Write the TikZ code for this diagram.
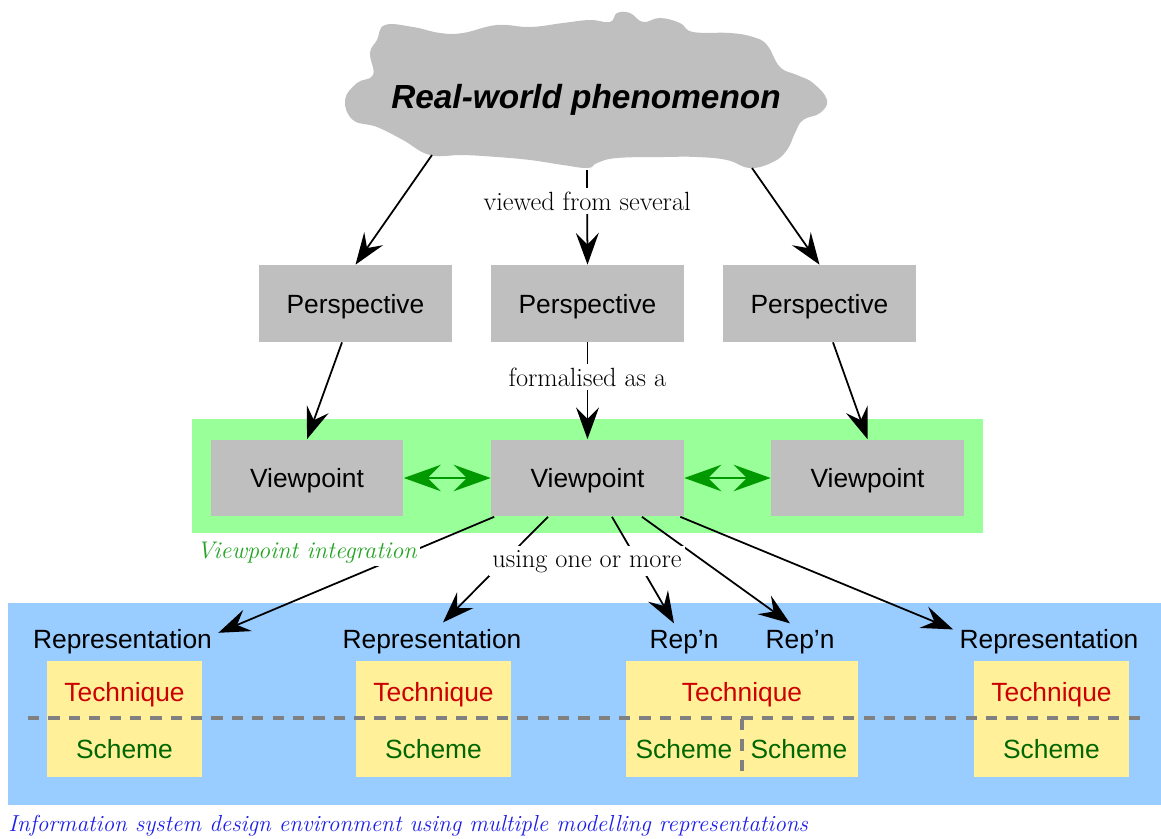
\documentclass[tikz,border=0pt]{standalone}
\usepackage{fontspec}
\setsansfont{Liberation Sans}
\usepackage{xcolor}
\usepackage{tikz}
\usetikzlibrary{arrows.meta,positioning,calc}

\definecolor{boxgray}{RGB}{191,191,191}
\definecolor{integgreen}{RGB}{153,255,153}
\definecolor{envblue}{RGB}{153,204,255}
\definecolor{techyellow}{RGB}{255,240,153}
\definecolor{techred}{RGB}{204,0,0}
\definecolor{schemegreen}{RGB}{0,102,0}
\definecolor{linkgreen}{RGB}{0,153,0}
\definecolor{labelgreen}{RGB}{34,165,34}
\definecolor{capblue}{RGB}{30,30,235}

\begin{document}
\begin{tikzpicture}[
    x=0.02cm, y=-0.02cm,
    box/.style={rectangle, fill=boxgray, minimum width=3.86cm, minimum height=1.54cm, text depth=0pt, font=\sffamily\fontsize{15}{18}\selectfont},
    replabel/.style={inner sep=3.5pt, anchor=base, font=\sffamily\fontsize{15}{18}\selectfont},
    techbox/.style={rectangle, fill=techyellow, minimum width=3.1cm, minimum height=2.32cm},
    techtext/.style={anchor=base, text=techred, font=\sffamily\fontsize{15}{18}\selectfont},
    schemetext/.style={anchor=base, text=schemegreen, font=\sffamily\fontsize{15}{18}\selectfont},
    linklabel/.style={fill=white, inner sep=2pt, font=\fontsize{15}{18}\selectfont},
    dashline/.style={draw=gray, line width=1.8pt, dash pattern=on 6.4pt off 5.2pt},
    arrow/.style={-{Stealth[length=18pt, width=13pt, inset=6.5pt]}, line width=1pt},
    vparrow/.style={{Stealth[length=21pt, width=15pt, inset=7.5pt]}-{Stealth[length=21pt, width=15pt, inset=7.5pt]}, draw=linkgreen, line width=1.6pt}
]
\useasboundingbox (0,0) rectangle (1161,839);

% Backgrounds
\fill[integgreen] (192,419) rectangle (983,533);
\fill[envblue] (8,603) rectangle (1161,805);

% Cloud
\fill[boxgray] plot[smooth cycle, tension=0.7] coordinates {
    (385,25) (413,27) (440,33) (463,33) (497,25) (530,27) (563,23) (590,20)
    (610,22) (617,13) (630,13) (643,22) (660,18) (680,23) (693,32) (730,33)
    (753,37) (767,45) (780,67) (797,75) (813,83) (827,100) (820,113) (803,120)
    (795,133) (787,150) (773,162) (750,168) (727,160) (697,157) (663,157) (617,158)
    (597,163) (588,168) (563,165) (530,160) (497,157) (463,155) (430,155) (403,140)
    (377,127) (353,120) (345,100) (357,83) (373,75) (370,53) (377,40)};
\node[anchor=base, font=\sffamily\bfseries\itshape\fontsize{19}{23}\selectfont] (phen) at (586,108) {Real-world phenomenon};
\coordinate (cloudL) at (432,155);
\coordinate (cloudC) at (587,170);
\coordinate (cloudR) at (752,168);

% Perspectives
\node[box] (persL) at (355.5,303.5) {Perspective};
\node[box] (persC) at (587.5,303.5) {Perspective};
\node[box] (persR) at (819.5,303.5) {Perspective};

% Viewpoints
\node[box] (vpL) at (307,478) {Viewpoint};
\node[box] (vpC) at (587.5,478) {Viewpoint};
\node[box] (vpR) at (867.5,478) {Viewpoint};

% Representations
\node[replabel] (rep1) at (122.5,648) {Representation};
\node[replabel] (rep2) at (432,648) {Representation};
\node[replabel] (rep3) at (684,648) {Rep’n};
\node[replabel] (rep4) at (800,648) {Rep’n};
\node[replabel] (rep5) at (1049,648) {Representation};

% Techniques and schemes
\node[techbox] (techL) at (124.5,719) {};
\node[techbox] (techB) at (433.5,719) {};
\node[techbox, minimum width=4.64cm] (techC) at (742,719) {};
\node[techbox] (techR) at (1051.5,719) {};

\node[techtext] (tqL) at (124.5,701) {Technique};
\node[techtext] (tqB) at (433.5,701) {Technique};
\node[techtext] (tqC) at (742,701) {Technique};
\node[techtext] (tqR) at (1051.5,701) {Technique};

\node[schemetext] (scL) at (124.5,758) {Scheme};
\node[schemetext] (scB) at (433.5,758) {Scheme};
\node[schemetext] (scC1) at (684,758) {Scheme};
\node[schemetext] (scC2) at (799,758) {Scheme};
\node[schemetext] (scR) at (1051.5,758) {Scheme};

\draw[dashline] (28,718) -- (1147,718);
\draw[dashline] (techC.center) -- (techC.south);

% Cloud to perspectives
\draw[arrow] (cloudL) -- (persL.north);
\draw[arrow] (cloudC) -- (persC.north) node[linklabel, pos=0.33] {viewed from several};
\draw[arrow] (cloudR) -- (persR.north);

% Perspectives to viewpoints
\draw[arrow] ([xshift=-0.27cm]persL.south) -- (vpL.north);
\draw[arrow] (persC.south) -- (vpC.north) node[linklabel, pos=0.36] {formalised as a};
\draw[arrow] ([xshift=0.27cm]persR.south) -- (vpR.north);

% Viewpoint integration
\draw[vparrow] (vpL) -- (vpC);
\draw[vparrow] (vpC) -- (vpR);

% Viewpoint to representations
\draw[arrow] ([xshift=0.07cm]vpC.south west) -- (rep1.5);
\draw[arrow] ([xshift=-0.79cm]vpC.south) -- ([xshift=0.22cm]rep2.north);
\draw[arrow] ([xshift=0.49cm]vpC.south) -- ([xshift=-0.2cm]rep3.north);
\draw[arrow] ([xshift=1.09cm]vpC.south) -- ([xshift=-0.2cm]rep4.north);
\draw[arrow] ([xshift=-0.08cm]vpC.south east) -- (rep5.173);

% Labels
\node[linklabel, anchor=base west, text=labelgreen, font=\itshape\fontsize{13.7}{16}\selectfont] (integ) at (193,558) {Viewpoint integration};
\node[linklabel, anchor=base] (using) at (587,567) {using one or more};
\node[anchor=base west, inner sep=0pt, text=capblue, font=\itshape\fontsize{13.2}{16}\selectfont] (caption) at (8,831) {Information system design environment using multiple modelling representations};

\end{tikzpicture}
\end{document}
